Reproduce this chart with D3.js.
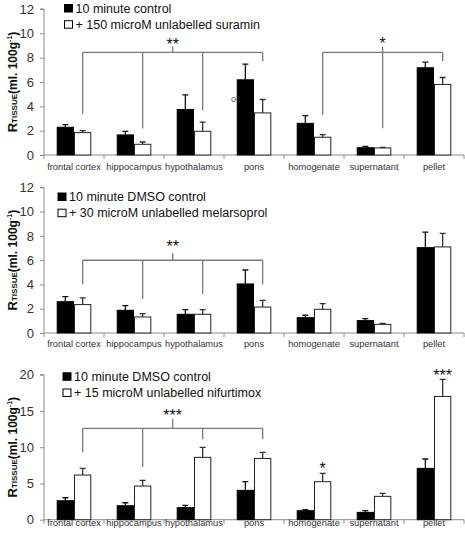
<!DOCTYPE html>
<html><head><meta charset="utf-8">
<script src="https://cdn.jsdelivr.net/npm/d3@7"></script>
<style>
body{margin:0;background:#fff;}
svg{display:block;font-family:"Liberation Sans",Arial,sans-serif;}
</style></head>
<body><svg id="c" width="465" height="536"></svg>
<script>
const categories = ["frontal cortex","hippocampus","hypothalamus","pons","homogenate","supernatant","pellet"];
const seriesKeys = ["control","treated"];

// Panel 1: suramin
const p1Legend = ["10 minute control","+ 150 microM unlabelled suramin"];
const p1Control = [2.28, 1.65, 3.74, 6.18, 2.60, 0.60, 7.17];
const p1ControlSem = [0.22, 0.30, 1.21, 1.29, 0.64, 0.11, 0.47];
const p1Treated = [1.84, 0.88, 1.95, 3.46, 1.46, 0.58, 5.80];
const p1TreatedSem = [0.16, 0.19, 0.75, 1.10, 0.22, 0.05, 0.57];
const p1Ticks = [0,2,4,6,8,10,12];
const p1Brackets = [
  {cats:[0,1,2,3], level:8.43, drops:[3.4,2.17,3.68,7.7], top:8.9, label:"**", labelY:9.41},
  {cats:[4,5,6], level:8.43, drops:[3.3,2.19,7.7], top:8.9, label:"*", labelY:9.45}
];

// Panel 2: melarsoprol
const p2Legend = ["10 minute DMSO control","+ 30 microM unlabelled melarsoprol"];
const p2Control = [2.58, 1.87, 1.54, 4.04, 1.26, 1.02, 7.03];
const p2ControlSem = [0.42, 0.38, 0.38, 1.15, 0.20, 0.16, 1.27];
const p2Treated = [2.34, 1.32, 1.54, 2.14, 1.95, 0.71, 7.09];
const p2TreatedSem = [0.56, 0.28, 0.38, 0.55, 0.47, 0.09, 1.12];
const p2Ticks = [0,2,4,6,8,10,12];
const p2Brackets = [
  {cats:[0,1,2,3], level:5.99, drops:[4.01,2.8,3.21,4.01], top:6.59, label:"**", labelY:7.44}
];

// Panel 3: nifurtimox
const p3Legend = ["10 minute DMSO control","+ 15 microM unlabelled nifurtimox"];
const p3Control = [2.62, 1.93, 1.66, 4.05, 1.24, 1.01, 7.08];
const p3ControlSem = [0.41, 0.41, 0.32, 1.19, 0.14, 0.23, 1.29];
const p3Treated = [6.16, 4.64, 8.60, 8.45, 5.24, 3.22, 17.0];
const p3TreatedSem = [0.92, 0.79, 1.38, 0.85, 1.15, 0.41, 2.36];
const p3Ticks = [0,5,10,15,20];
const p3Brackets = [
  {cats:[0,1,2,3], level:12.6, drops:[9.3,7.27,11.09,11.09], top:13.89, label:"***", labelY:14.9}
];
const p3Stars = [{cat:4, value:7.54, label:"*"},{cat:6, value:20.4, label:"***"}];

const svg = d3.select("#c");

const panels = [
  {top:9, bottom:155, max:12, ticks:p1Ticks, ctrl:p1Control, ctrlSem:p1ControlSem, trt:p1Treated, trtSem:p1TreatedSem,
   brackets:p1Brackets, stars:[], legend:p1Legend, legX:64, legY:4, catY:170, stray:true},
  {top:187.3, bottom:333, max:12, ticks:p2Ticks, ctrl:p2Control, ctrlSem:p2ControlSem, trt:p2Treated, trtSem:p2TreatedSem,
   brackets:p2Brackets, stars:[], legend:p2Legend, legX:57.5, legY:192.5, catY:347},
  {top:374.7, bottom:519.7, max:20, ticks:p3Ticks, ctrl:p3Control, ctrlSem:p3ControlSem, trt:p3Treated, trtSem:p3TreatedSem,
   brackets:p3Brackets, stars:p3Stars, legend:p3Legend, legX:62.5, legY:372.3, catY:526}
];

const x = d3.scaleBand().domain(categories).range([44,464]);
const xs = d3.scaleBand().domain(seriesKeys).range([12.7, 47.3]);
const axisColor = "#8c8c8c";

panels.forEach(p => {
  const y = d3.scaleLinear().domain([0,p.max]).range([p.bottom,p.top]);
  const g = svg.append("g");

  // y axis
  const ya = g.append("g").attr("transform","translate(44,0)")
    .call(d3.axisLeft(y).tickValues(p.ticks).tickSize(4).tickPadding(6).tickFormat(d3.format("d")));
  ya.select(".domain").attr("stroke",axisColor).attr("d",`M-4,${p.top}H0V${p.bottom}`);
  ya.selectAll(".tick line").attr("stroke",axisColor);
  ya.selectAll(".tick text").attr("font-size",13).attr("fill","#333").attr("font-family","Liberation Sans, Arial");

  // x axis
  g.append("line").attr("x1",44).attr("x2",464).attr("y1",p.bottom).attr("y2",p.bottom).attr("stroke",axisColor);
  const bounds = categories.map(c=>x(c)).concat([464]);
  g.selectAll(".xt").data(bounds).join("line")
    .attr("x1",d=>d).attr("x2",d=>d).attr("y1",p.bottom).attr("y2",p.bottom+4).attr("stroke",axisColor);
  g.selectAll(".cl").data(categories).join("text")
    .attr("x",d=>x(d)+x.bandwidth()/2).attr("y",p.catY).attr("text-anchor","middle")
    .attr("font-size",9.3).attr("fill","#333").text(d=>d);

  // y label
  const lab = g.append("text").attr("transform",`translate(17,${(p.top+p.bottom)/2}) rotate(-90)`)
    .attr("text-anchor","middle").attr("font-weight","bold").attr("fill","#111");
  lab.append("tspan").attr("font-size",13).text("R");
  lab.append("tspan").attr("font-size",8).text("TISSUE");
  lab.append("tspan").attr("font-size",12).text("(ml. 100g");
  lab.append("tspan").attr("font-size",7).attr("dy",-5).text("-1");
  lab.append("tspan").attr("font-size",12).attr("dy",5).text(")");

  if (p.stray) {
    g.append("text").attr("x",231).attr("y",102).attr("font-size",9).attr("fill","#555").text("o");
  }

  // brackets
  p.brackets.forEach(b => {
    const xsPos = b.cats.map(i => x(categories[i]) + xs("treated") + xs.bandwidth()/2);
    const bg = g.append("g").attr("stroke","#7a7a7a").attr("stroke-width",1.3).attr("fill","none");
    bg.append("line").attr("x1",xsPos[0]).attr("x2",xsPos[xsPos.length-1]).attr("y1",y(b.level)).attr("y2",y(b.level));
    xsPos.forEach((xx,i)=>{
      bg.append("line").attr("x1",xx).attr("x2",xx).attr("y1",y(b.level)).attr("y2",y(b.drops[i]));
    });
    const mid = (xsPos[0]+xsPos[xsPos.length-1])/2;
    bg.append("line").attr("x1",mid).attr("x2",mid).attr("y1",y(b.level)).attr("y2",y(b.top));
    g.append("text").attr("x",mid).attr("y",y(b.labelY)+9.3).attr("text-anchor","middle")
      .attr("font-size",16).attr("fill","#111").text(b.label);
  });
  p.stars.forEach(s=>{
    const xx = x(categories[s.cat]) + xs("treated") + xs.bandwidth()/2;
    g.append("text").attr("x",xx).attr("y",y(s.value)+9.3).attr("text-anchor","middle")
      .attr("font-size",16).attr("fill","#111").text(s.label);
  });

  // bars
  const rows = categories.map((c,i)=>({c, vals:[
    {k:"control", v:p.ctrl[i], e:p.ctrlSem[i]},
    {k:"treated", v:p.trt[i], e:p.trtSem[i]}]}));
  const grp = g.selectAll(".grp").data(rows).join("g").attr("transform",d=>`translate(${x(d.c)},0)`);
  // error bars
  grp.selectAll(".eb").data(d=>d.vals).join("path")
    .attr("d",d=>{
      const cx = xs(d.k)+xs.bandwidth()/2;
      return `M${cx},${y(d.v)}V${y(d.v+d.e)}M${cx-3},${y(d.v+d.e)}H${cx+3}`;
    })
    .attr("stroke",d=>d.k==="control"?"#111":"#333").attr("stroke-width",1.3).attr("fill","none");
  grp.selectAll("rect").data(d=>d.vals).join("rect")
    .attr("x",d=>xs(d.k)+0.5).attr("width",xs.bandwidth()-1)
    .attr("y",d=>y(d.v)).attr("height",d=>p.bottom-y(d.v))
    .attr("fill",d=>d.k==="control"?"#000":"#fff")
    .attr("stroke",d=>d.k==="control"?"#000":"#222").attr("stroke-width",1);

  // legend
  const lg = g.append("g");
  p.legend.forEach((t,i)=>{
    lg.append("rect").attr("x",p.legX+0.5).attr("y",p.legY+i*16.2+0.5).attr("width",8).attr("height",7.5)
      .attr("fill",i===0?"#000":"#fff").attr("stroke","#000").attr("stroke-width",1);
    lg.append("text").attr("x",p.legX+11.5).attr("y",p.legY+i*16.2+8.7).attr("font-size",12.5)
      .attr("fill","#111").text(t);
  });
});
</script></body></html>
